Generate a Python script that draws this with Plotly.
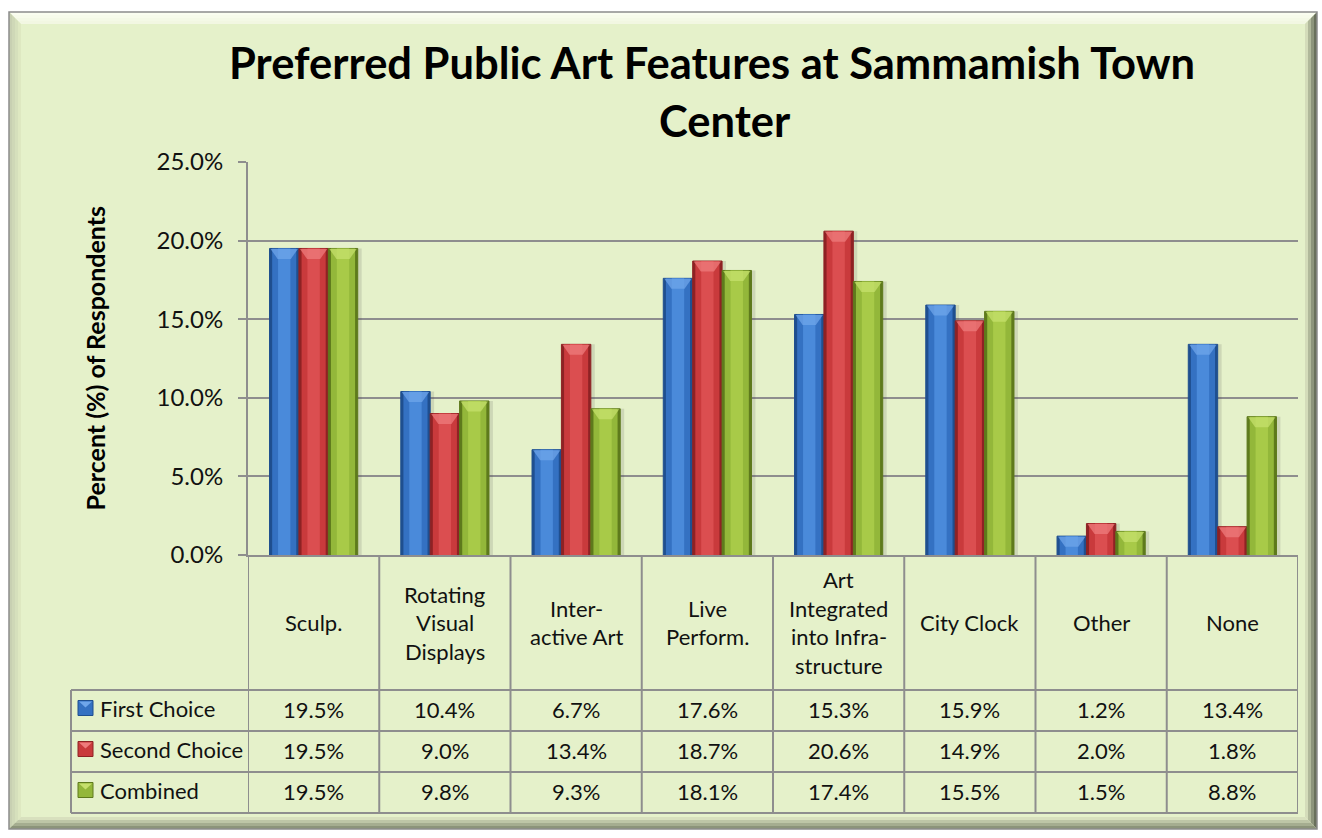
import plotly.graph_objects as go

W, H = 1322, 838

# ---- data -------------------------------------------------------------
categories = ["Sculp.", "Rotating\nVisual\nDisplays", "Inter-\nactive Art",
              "Live\nPerform.", "Art\nIntegrated\ninto Infra-\nstructure",
              "City Clock", "Other", "None"]
series_names = ["First Choice", "Second Choice", "Combined"]
first_choice = [19.5, 10.4, 6.7, 17.6, 15.3, 15.9, 1.2, 13.4]
second_choice = [19.5, 9.0, 13.4, 18.7, 20.6, 14.9, 2.0, 1.8]
combined = [19.5, 9.8, 9.3, 18.1, 17.4, 15.5, 1.5, 8.8]
y_ticks = [0, 5, 10, 15, 20, 25]

series_values = [first_choice, second_choice, combined]

# ---- styling ----------------------------------------------------------
FONT = "Lato"
BG = "#E5F1CA"
PLOT_BG = "#DCE5F1"
GRID = "#8E8E8E"
# (edge, body, highlight, bevel) per series
PALETTES = [
    ("#1F4F8F", "#3471C2", "#4A8ADA", "#6FA6EA"),
    ("#8E2224", "#C93A3C", "#DB4E50", "#EE7C7C"),
    ("#5E7A1C", "#93B73A", "#A8CA48", "#C6E06C"),
]

# pixel layout of the plotting area and data table
PLOT_L, PLOT_R, PLOT_T, PLOT_B = 248, 1298, 162, 555
TABLE_L = 71
ROW_Y = [690, 731, 772, 813]
FRAME_L, FRAME_R, FRAME_T, FRAME_B = 9, 1317, 12, 829
BEVEL = 12
TEXT_SIZE = 22


def fx(px):
    return px / W


def fy(py):
    return 1 - py / H


n_cat = len(categories)
xs = list(range(n_cat))
bar_w = 0.224
group_left = -1.5 * bar_w
units_per_px = 25 / (PLOT_B - PLOT_T)

fig = go.Figure()

# soft drop shadows
for k, vals in enumerate(series_values):
    fig.add_trace(go.Bar(
        x=xs, y=vals, width=bar_w, offset=group_left + k * bar_w + 0.03,
        marker=dict(color="rgba(70,70,70,0.15)", line=dict(width=0)),
        showlegend=False, hoverinfo="skip"))

shapes = []

# layered bars give a shaded, rounded look
for k, (vals, name) in enumerate(zip(series_values, series_names)):
    edge, body, hi, bev = PALETTES[k]
    off = group_left + k * bar_w
    fig.add_trace(go.Bar(
        x=xs, y=vals, width=bar_w, offset=off, name=name,
        marker=dict(color=edge, line=dict(color=edge, width=1)),
        showlegend=False))
    for frac, col in ((0.82, body), (0.42, hi)):
        w = bar_w * frac
        fig.add_trace(go.Bar(
            x=xs, y=vals, width=w, offset=off + (bar_w - w) / 2,
            marker=dict(color=col, line=dict(width=0)),
            showlegend=False, hoverinfo="skip"))
    # bevelled top of each bar
    depth = 10 * units_per_px
    for i, v in enumerate(vals):
        x0 = i + off + 0.008
        x1 = i + off + bar_w - 0.008
        xm = i + off + bar_w / 2
        top = v - 0.5 * units_per_px
        d = min(depth, top * 0.6)
        shapes.append(dict(type="path", xref="x", yref="y",
                           path=f"M {x0:.4f},{top:.4f} L {x1:.4f},{top:.4f} "
                                f"L {xm + 0.05:.4f},{top - d:.4f} L {xm - 0.05:.4f},{top - d:.4f} Z",
                           fillcolor=bev, opacity=0.75, line=dict(width=0)))

# chart frame with bevelled edges
shapes.append(dict(type="rect", xref="paper", yref="paper",
                   x0=fx(FRAME_L), x1=fx(FRAME_R), y0=fy(FRAME_B), y1=fy(FRAME_T),
                   fillcolor=BG, line=dict(width=0), layer="below"))


def poly(pts, color):
    d = "M " + " L ".join(f"{fx(a):.5f},{fy(b):.5f}" for a, b in pts) + " Z"
    return dict(type="path", xref="paper", yref="paper", path=d,
                fillcolor=color, line=dict(width=0), layer="below")


steps = 4
for s in range(steps):
    i0 = BEVEL * s / steps
    i1 = BEVEL * (s + 1) / steps
    t = s / (steps - 1)
    top_c = f"rgb({int(250 - 8 * t)},{int(253 - 6 * t)},{int(240 - 14 * t)})"
    shapes.append(poly([(FRAME_L + i0, FRAME_T + i0), (FRAME_R - i0, FRAME_T + i0),
                        (FRAME_R - i1, FRAME_T + i1), (FRAME_L + i1, FRAME_T + i1)], top_c))
    left_c = f"rgb({int(200 + 22 * t)},{int(208 + 24 * t)},{int(178 + 15 * t)})"
    shapes.append(poly([(FRAME_L + i0, FRAME_T + i0), (FRAME_L + i1, FRAME_T + i1),
                        (FRAME_L + i1, FRAME_B - i1), (FRAME_L + i0, FRAME_B - i0)], left_c))
    dark_c = f"rgb({int(105 + 107 * t)},{int(112 + 108 * t)},{int(92 + 94 * t)})"
    shapes.append(poly([(FRAME_R - i0, FRAME_T + i0), (FRAME_R - i0, FRAME_B - i0),
                        (FRAME_R - i1, FRAME_B - i1), (FRAME_R - i1, FRAME_T + i1)], dark_c))
    bot_c = f"rgb({int(140 + 76 * t)},{int(148 + 76 * t)},{int(122 + 68 * t)})"
    shapes.append(poly([(FRAME_L + i0, FRAME_B - i0), (FRAME_R - i0, FRAME_B - i0),
                        (FRAME_R - i1, FRAME_B - i1), (FRAME_L + i1, FRAME_B - i1)], bot_c))

shapes.append(dict(type="rect", xref="paper", yref="paper",
                   x0=fx(FRAME_L), x1=fx(FRAME_R), y0=fy(FRAME_B), y1=fy(FRAME_T),
                   line=dict(color="#8C8C8C", width=1.5), layer="below"))

# data table grid
TL = dict(color=GRID, width=2)
for i in range(n_cat + 1):
    shapes.append(dict(type="line", xref="x", yref="paper",
                       x0=i - 0.5, x1=i - 0.5, y0=fy(PLOT_B), y1=fy(ROW_Y[-1]), line=TL))
shapes.append(dict(type="line", xref="paper", yref="paper",
                   x0=fx(TABLE_L), x1=fx(TABLE_L), y0=fy(ROW_Y[0]), y1=fy(ROW_Y[-1]), line=TL))
for ry in ROW_Y:
    shapes.append(dict(type="line", xref="paper", yref="paper",
                       x0=fx(TABLE_L), x1=fx(PLOT_R), y0=fy(ry), y1=fy(ry), line=TL))

annotations = []

# category labels, one annotation per line for Excel-like spacing
LINE_H = 28.5
cat_mid = (PLOT_B + ROW_Y[0]) / 2
for i, label in enumerate(categories):
    lines = label.split("\n")
    for j, ln in enumerate(lines):
        yy = cat_mid + (j - (len(lines) - 1) / 2) * LINE_H
        annotations.append(dict(x=i, y=fy(yy), xref="x", yref="paper", text=ln,
                                showarrow=False, xanchor="center", yanchor="middle",
                                font=dict(family=FONT, size=TEXT_SIZE, color="#111")))

# table rows: legend key, series name, values
for k, (vals, name) in enumerate(zip(series_values, series_names)):
    edge, body, hi, bev = PALETTES[k]
    r0, r1 = ROW_Y[k], ROW_Y[k + 1]
    cy = (r0 + r1) / 2
    shapes.append(dict(type="rect", xref="paper", yref="paper",
                       x0=fx(78), x1=fx(93), y0=fy(cy + 5), y1=fy(cy - 10),
                       fillcolor=body, line=dict(color=edge, width=1)))
    shapes.append(dict(type="path", xref="paper", yref="paper",
                       path=f"M {fx(79):.5f},{fy(cy - 9):.5f} L {fx(92):.5f},{fy(cy - 9):.5f} "
                            f"L {fx(85.5):.5f},{fy(cy - 3):.5f} Z",
                       fillcolor=bev, line=dict(width=0)))
    annotations.append(dict(x=fx(98), y=fy(cy - 2), xref="paper", yref="paper", text=name,
                            showarrow=False, xanchor="left", yanchor="middle",
                            font=dict(family=FONT, size=TEXT_SIZE, color="#111")))
    for i, v in enumerate(vals):
        annotations.append(dict(x=i, y=fy(cy - 1), xref="x", yref="paper", text=f"{v:.1f}%",
                                showarrow=False, xanchor="center", yanchor="middle",
                                font=dict(family=FONT, size=TEXT_SIZE, color="#111")))

# title (two lines) and y-axis title
for txt, cx, yy in (("Preferred Public Art Features at Sammamish Town", 712, 62),
                    ("Center", 725, 120)):
    annotations.append(dict(x=fx(cx), y=fy(yy), xref="paper", yref="paper", text=f"<b>{txt}</b>",
                            showarrow=False, xanchor="center", yanchor="middle",
                            font=dict(family=FONT, size=43.5, color="#000")))
annotations.append(dict(x=fx(94), y=fy((PLOT_T + PLOT_B) / 2), xref="paper", yref="paper",
                        text="<b>Percent (%) of Respondents</b>", textangle=-90,
                        showarrow=False, xanchor="center", yanchor="middle",
                        font=dict(family=FONT, size=25, color="#000")))

fig.update_layout(
    width=W, height=H,
    margin=dict(l=0, r=0, t=0, b=0, autoexpand=False),
    paper_bgcolor="white",
    plot_bgcolor=PLOT_BG,
    barmode="overlay",
    showlegend=False,
    shapes=shapes,
    annotations=annotations,
    xaxis=dict(domain=[fx(PLOT_L), fx(PLOT_R)], range=[-0.5, n_cat - 0.5],
               showticklabels=False, ticks="", showgrid=False, zeroline=False,
               automargin=False,
               showline=True, linecolor=GRID, linewidth=2, fixedrange=True),
    yaxis=dict(domain=[fy(PLOT_B), fy(PLOT_T)], range=[0, 25],
               tickvals=y_ticks, ticktext=[f"{t:.1f}%" for t in y_ticks],
               ticks="outside", ticklen=8, tickcolor=GRID, tickwidth=2,
               ticklabelstandoff=10, automargin=False,
               tickfont=dict(family=FONT, size=24, color="#111"),
               showgrid=True, gridcolor=GRID, gridwidth=2, zeroline=False,
               showline=True, linecolor=GRID, linewidth=2, fixedrange=True),
)

fig.write_html("out.html")
